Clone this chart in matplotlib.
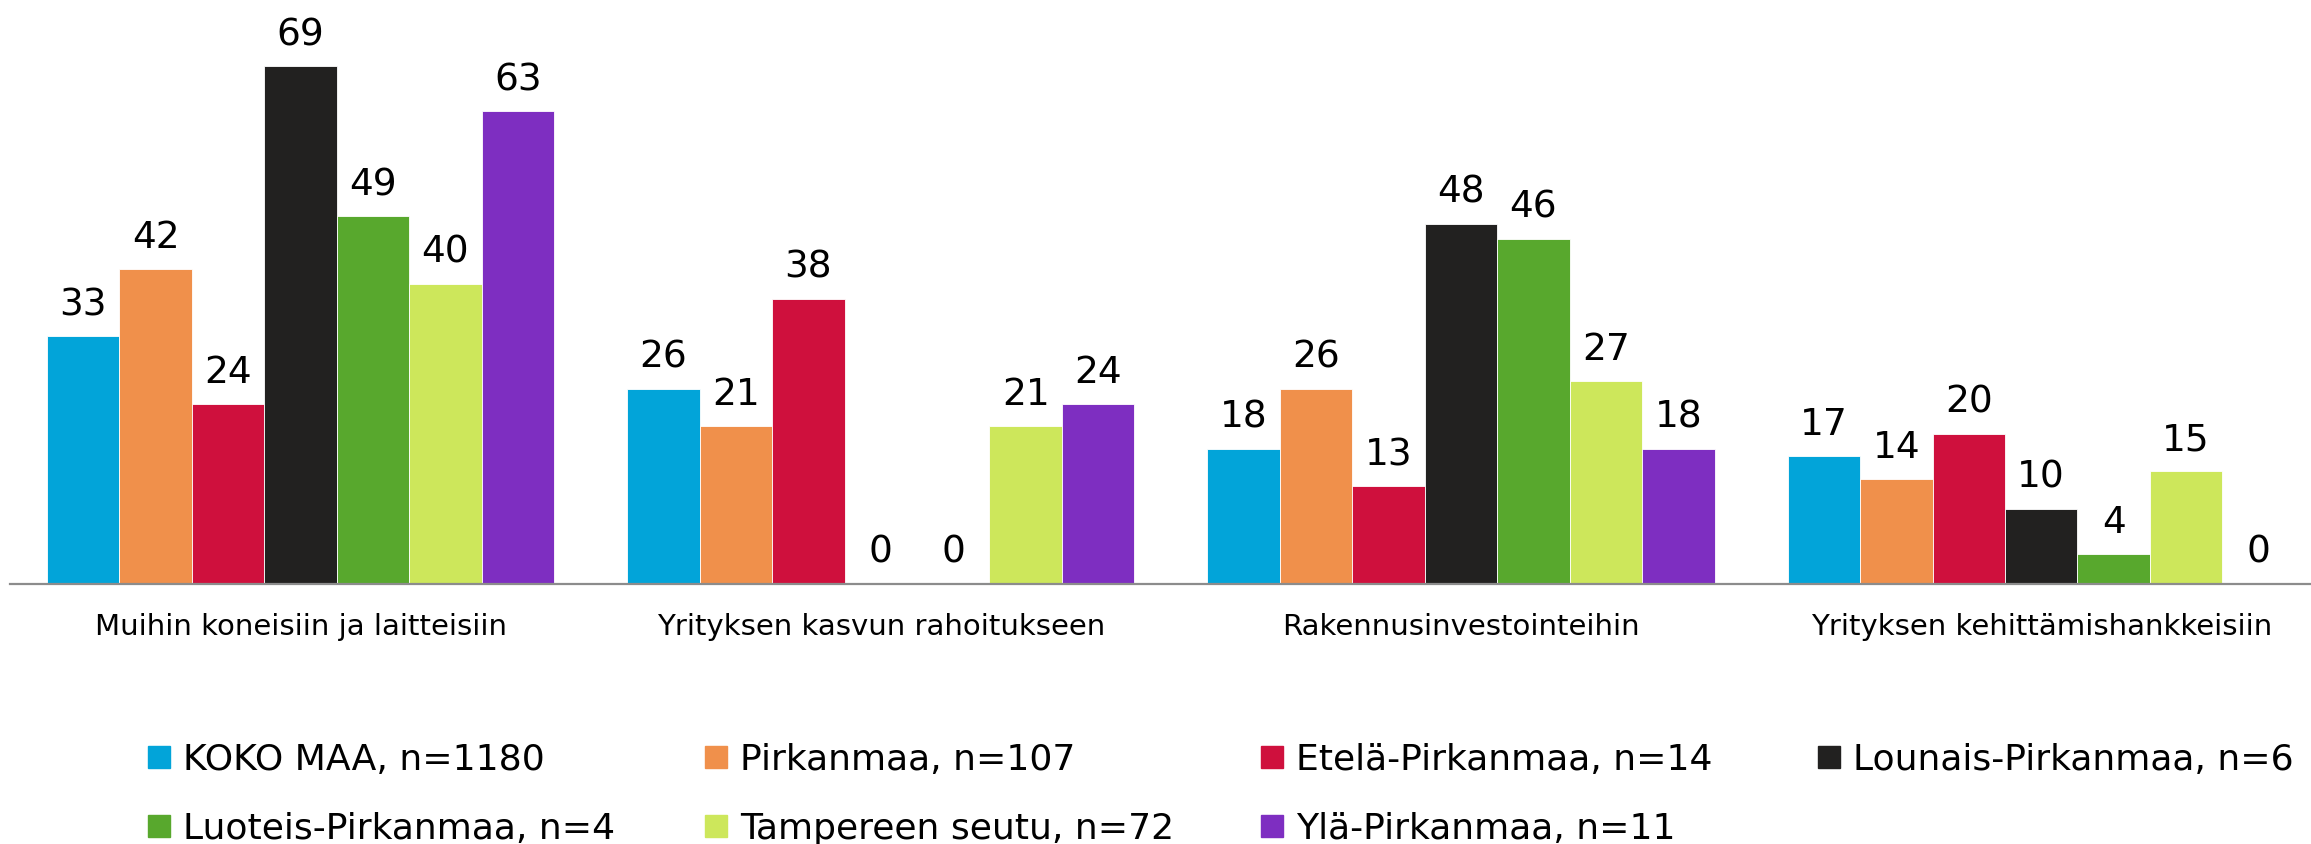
import matplotlib.pyplot as plt
from matplotlib.patches import Rectangle
import numpy as np

categories = ['Muihin koneisiin ja laitteisiin', 'Yrityksen kasvun rahoitukseen',
              'Rakennusinvestointeihin', 'Yrityksen kehittämishankkeisiin']
series = ['KOKO MAA, n=1180', 'Pirkanmaa, n=107', 'Etelä-Pirkanmaa, n=14',
          'Lounais-Pirkanmaa, n=6', 'Luoteis-Pirkanmaa, n=4',
          'Tampereen seutu, n=72', 'Ylä-Pirkanmaa, n=11']
koko_maa = [33, 26, 18, 17]
pirkanmaa = [42, 21, 26, 14]
etela = [24, 38, 13, 20]
lounais = [69, 0, 48, 10]
luoteis = [49, 0, 46, 4]
tampere = [40, 21, 27, 15]
yla = [63, 24, 18, 0]
values = [koko_maa, pirkanmaa, etela, lounais, luoteis, tampere, yla]
colors = ['#02A4D9', '#F0904B', '#CF103D', '#222120', '#58A82D', '#CDE75B', '#7E2EC1']

W, H = 2311, 844
fig = plt.figure(figsize=(W / 100, H / 100), dpi=100)
plt.rcParams['font.family'] = 'DejaVu Sans'

# plot area: axis line at y=583.7px, 7.5 px per unit
ax = fig.add_axes([10.4 / W, 1 - 583.7 / H, 1 - 10.4 / W, 562.5 / H])

x = np.arange(len(categories))
bw = 0.874 / len(series)
for i, vals in enumerate(values):
    pos = x - 0.437 + bw * (i + 0.5)
    ax.bar(pos, vals, width=bw, color=colors[i], edgecolor='white', linewidth=0.6)
    for px, v in zip(pos, vals):
        ax.annotate(str(v), (px, v), xytext=(0, 15), textcoords='offset points',
                    ha='center', va='baseline', fontsize=27, color='black')

ax.set_xlim(-0.5, 3.465)
ax.set_ylim(0, 75)
ax.set_xticks(x)
ax.set_xticklabels(categories, fontsize=21)
ax.tick_params(axis='x', length=0, pad=21)
ax.set_yticks([])
for s in ['top', 'right', 'left']:
    ax.spines[s].set_visible(False)
ax.spines['bottom'].set_color('#8c8c8c')
ax.spines['bottom'].set_linewidth(1.6)

# legend, 4 columns x 2 rows
col_x = [148, 705, 1261, 1818]
row_y = [756.5, 825.5]
for i, name in enumerate(series):
    cx = col_x[i % 4]
    cy = row_y[i // 4]
    fig.add_artist(Rectangle((cx / W, 1 - (cy + 11) / H), 22 / W, 22 / H,
                             transform=fig.transFigure, color=colors[i]))
    fig.text((cx + 35) / W, 1 - (cy + 13.5) / H, name, fontsize=26,
             ha='left', va='baseline')

fig.savefig('out.png', dpi=100)
